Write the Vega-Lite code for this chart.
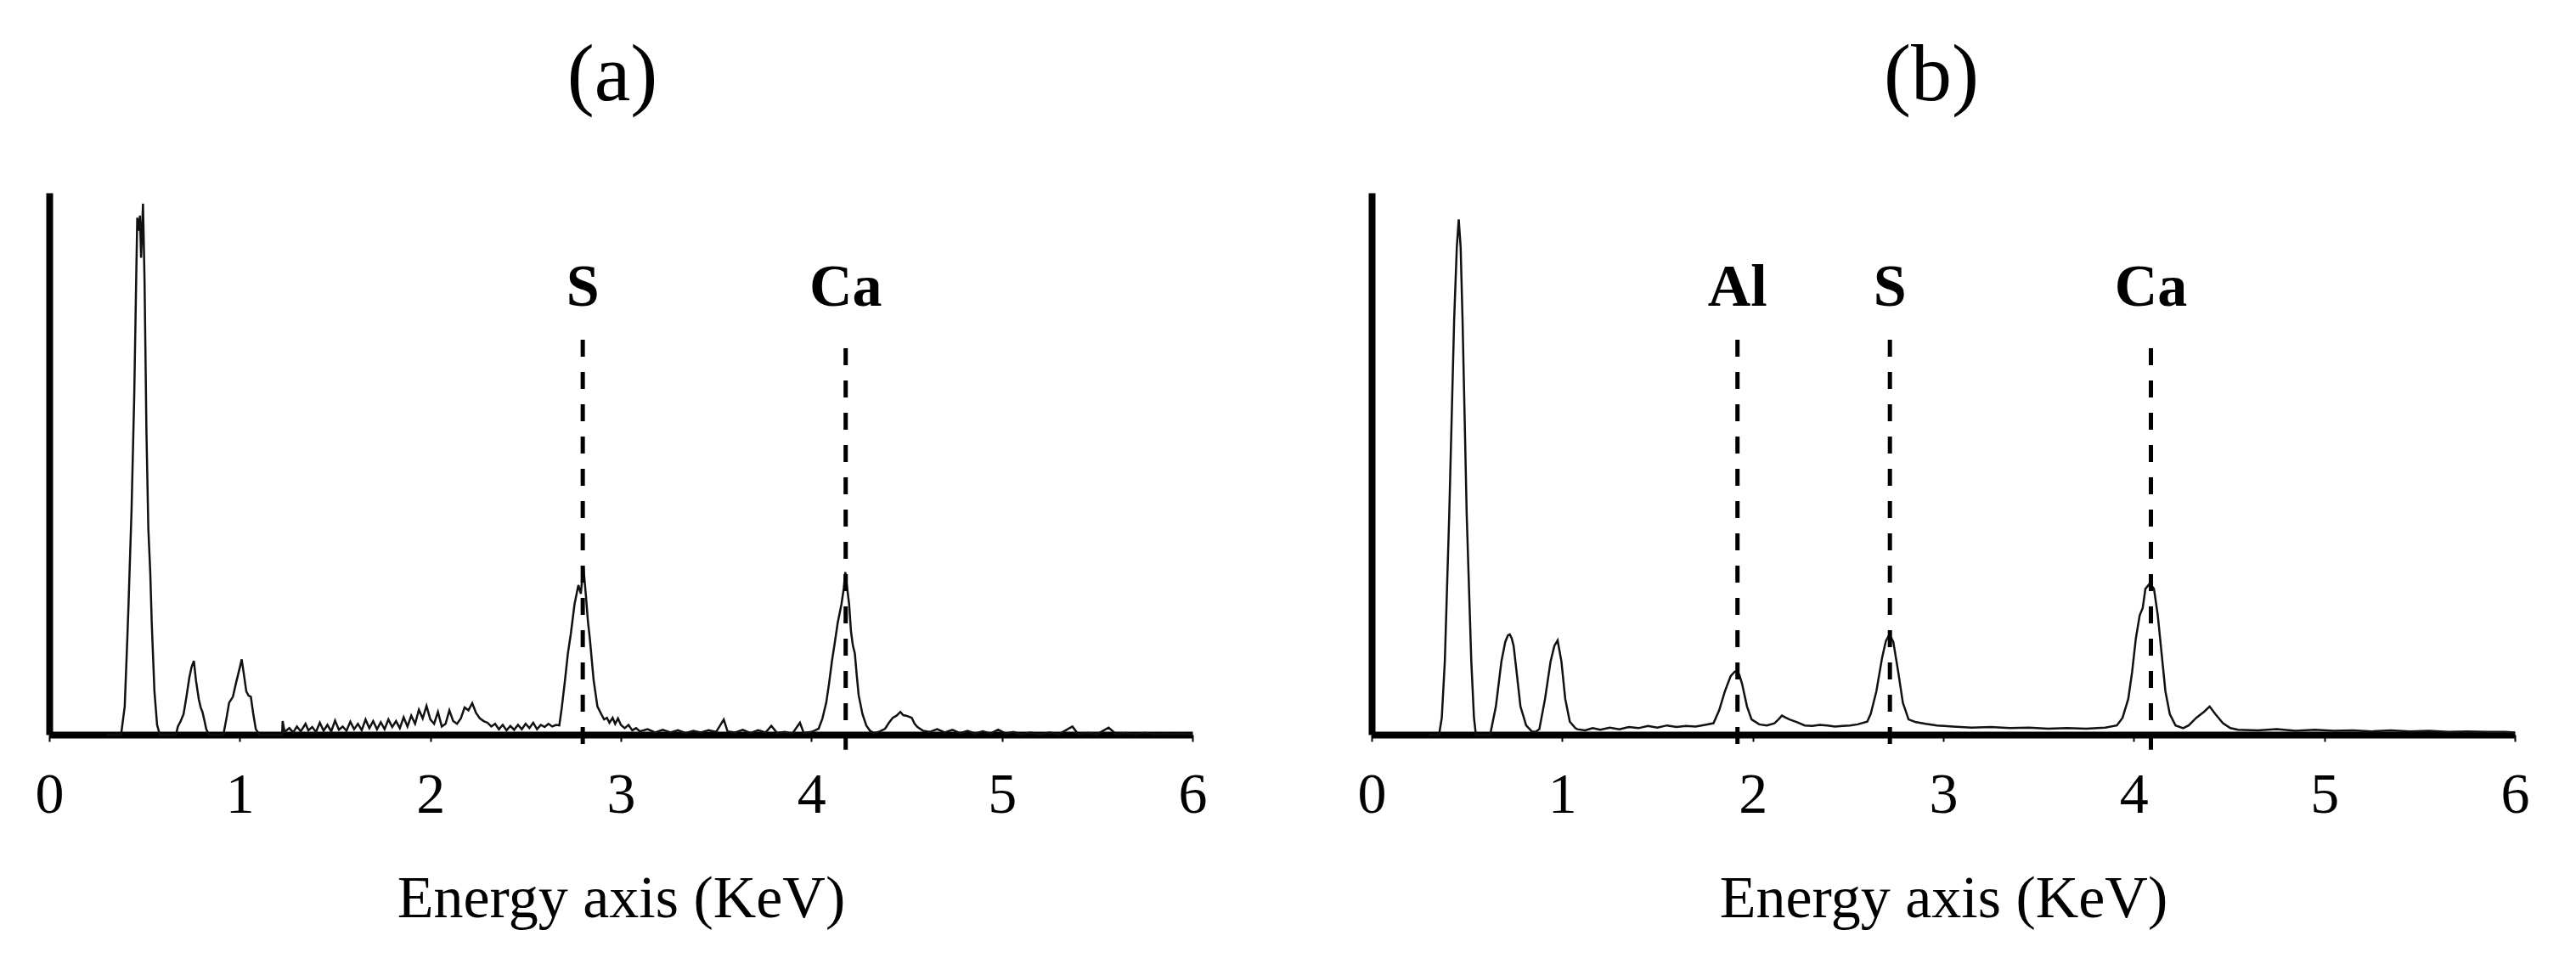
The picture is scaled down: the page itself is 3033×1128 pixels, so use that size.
{
  "$schema": "https://vega.github.io/schema/vega-lite/v6.json",
  "padding": {"left": 41, "top": 41, "right": 5, "bottom": 5},
  "bounds": "flush",
  "spacing": 211,
  "config": {
    "view": {"stroke": null},
    "font": "Liberation Serif",
    "axisX": {
      "domainColor": "black", "domainWidth": 8, "domainCap": "butt",
      "ticks": true, "tickSize": 8, "tickWidth": 2, "tickColor": "black",
      "grid": false,
      "labelFont": "Liberation Serif", "labelFontSize": 68, "labelColor": "black",
      "labelBaseline": "alphabetic", "labelPadding": 83, "labelFlush": false, "labelOverlap": false,
      "titleFont": "Liberation Serif", "titleFontSize": 70, "titleFontWeight": "normal", "titleColor": "black",
      "titleBaseline": "alphabetic", "titlePadding": 109
    },
    "axisY": {"domainColor": "black", "domainWidth": 8, "ticks": false, "labels": false, "grid": false}
  },
  "datasets": {
    "a": [
      {"e":0.30,"c":0},{"e":0.37,"c":0},{"e":0.377,"c":0},{"e":0.396,"c":5.2},{"e":0.41,"c":18},{"e":0.416,"c":24},{"e":0.432,"c":41.6},{"e":0.446,"c":62.6},{"e":0.456,"c":83.5},{"e":0.462,"c":95.4},{"e":0.470,"c":93},{"e":0.476,"c":95.8},{"e":0.482,"c":88},{"e":0.486,"c":92},{"e":0.492,"c":98},{"e":0.500,"c":84},{"e":0.510,"c":56},{"e":0.520,"c":38},{"e":0.530,"c":30},{"e":0.538,"c":20.5},{"e":0.552,"c":8},{"e":0.566,"c":1.8},{"e":0.580,"c":0},
      {"e":0.665,"c":0},{"e":0.675,"c":1.5},{"e":0.69,"c":2.5},{"e":0.705,"c":3.8},{"e":0.72,"c":7},{"e":0.735,"c":10.5},{"e":0.747,"c":12.5},{"e":0.759,"c":13.6},{"e":0.770,"c":10},{"e":0.785,"c":6.5},{"e":0.795,"c":5},{"e":0.804,"c":4.2},{"e":0.815,"c":2.5},{"e":0.824,"c":1},{"e":0.838,"c":0},
      {"e":0.914,"c":0},{"e":0.93,"c":3},{"e":0.944,"c":5.9},{"e":0.964,"c":7.0},{"e":0.980,"c":9.5},{"e":0.994,"c":11.5},{"e":1.003,"c":12.8},{"e":1.010,"c":13.9},{"e":1.020,"c":11.5},{"e":1.034,"c":8.0},{"e":1.046,"c":7.2},{"e":1.058,"c":7.0},{"e":1.070,"c":4},{"e":1.084,"c":1.0},{"e":1.104,"c":0},{"e":1.222,"c":0},
      {"e":1.225,"c":2.5},{"e":1.235,"c":0.5},{"e":1.26,"c":1.2},{"e":1.28,"c":0.4},{"e":1.30,"c":1.5},{"e":1.32,"c":0.6},{"e":1.345,"c":2.0},{"e":1.36,"c":0.8},{"e":1.38,"c":1.4},{"e":1.40,"c":0.5},{"e":1.42,"c":2.2},{"e":1.44,"c":0.7},{"e":1.46,"c":1.8},{"e":1.48,"c":0.6},{"e":1.50,"c":2.6},{"e":1.52,"c":0.9},{"e":1.54,"c":1.5},{"e":1.56,"c":0.7},{"e":1.58,"c":2.4},{"e":1.60,"c":1.0},{"e":1.62,"c":2.0},{"e":1.64,"c":0.8},{"e":1.66,"c":2.8},{"e":1.68,"c":1.2},{"e":1.70,"c":2.5},{"e":1.72,"c":1.0},{"e":1.74,"c":2.3},{"e":1.76,"c":1.0},{"e":1.78,"c":2.8},{"e":1.80,"c":1.4},{"e":1.82,"c":2.5},{"e":1.84,"c":1.2},{"e":1.86,"c":3.2},{"e":1.88,"c":1.5},{"e":1.90,"c":3.5},{"e":1.92,"c":2.0},{"e":1.94,"c":4.6},{"e":1.96,"c":3.0},{"e":1.98,"c":5.3},{"e":2.00,"c":2.8},{"e":2.02,"c":2.0},{"e":2.04,"c":4.2},{"e":2.06,"c":1.5},{"e":2.08,"c":2.0},{"e":2.10,"c":4.5},{"e":2.12,"c":2.5},{"e":2.14,"c":2.0},{"e":2.16,"c":3.0},{"e":2.18,"c":5.0},{"e":2.20,"c":4.5},{"e":2.22,"c":5.8},{"e":2.24,"c":4.0},{"e":2.26,"c":3.0},{"e":2.28,"c":2.5},{"e":2.30,"c":2.2},{"e":2.32,"c":1.5},{"e":2.34,"c":2.0},{"e":2.36,"c":1.0},{"e":2.38,"c":1.8},{"e":2.40,"c":0.8},{"e":2.42,"c":1.6},{"e":2.44,"c":0.9},{"e":2.46,"c":1.8},{"e":2.48,"c":1.0},{"e":2.50,"c":2.0},{"e":2.52,"c":1.2},{"e":2.54,"c":2.2},{"e":2.56,"c":1.0},{"e":2.58,"c":1.8},{"e":2.60,"c":1.4},{"e":2.62,"c":2.0},{"e":2.64,"c":1.5},{"e":2.66,"c":1.8},
      {"e":2.677,"c":1.7},{"e":2.690,"c":5},{"e":2.707,"c":10.1},{"e":2.722,"c":15},{"e":2.737,"c":18.5},{"e":2.757,"c":24.1},{"e":2.777,"c":27.6},{"e":2.790,"c":26},{"e":2.803,"c":31.1},{"e":2.817,"c":25.5},{"e":2.827,"c":21},{"e":2.837,"c":17.8},{"e":2.857,"c":10.1},{"e":2.877,"c":5.2},{"e":2.897,"c":3.8},{"e":2.912,"c":2.8},{"e":2.927,"c":3.1},{"e":2.94,"c":2.2},{"e":2.957,"c":3.1},{"e":2.97,"c":2.0},{"e":2.985,"c":3.0},{"e":3.00,"c":1.8},{"e":3.02,"c":1.2},{"e":3.04,"c":1.8},{"e":3.06,"c":0.8},{"e":3.08,"c":1.2},{"e":3.10,"c":0.6},{"e":3.14,"c":1.0},{"e":3.18,"c":0.4},{"e":3.22,"c":0.9},{"e":3.26,"c":0.4},{"e":3.30,"c":0.8},{"e":3.34,"c":0.3},{"e":3.38,"c":0.7},{"e":3.42,"c":0.4},{"e":3.46,"c":0.8},{"e":3.50,"c":0.5},{"e":3.54,"c":2.8},{"e":3.56,"c":0.6},{"e":3.60,"c":0.4},{"e":3.64,"c":0.9},{"e":3.68,"c":0.3},{"e":3.72,"c":0.8},{"e":3.76,"c":0.4},{"e":3.79,"c":1.6},{"e":3.82,"c":0.3},{"e":3.86,"c":0.5},{"e":3.90,"c":0.2},{"e":3.94,"c":2.2},{"e":3.96,"c":0.3},{"e":4.00,"c":0.5},{"e":4.02,"c":0.8},
      {"e":4.038,"c":1.1},{"e":4.058,"c":3},{"e":4.078,"c":5.9},{"e":4.093,"c":9.5},{"e":4.108,"c":13.6},{"e":4.123,"c":17},{"e":4.138,"c":20.6},{"e":4.158,"c":24.1},{"e":4.170,"c":27},{"e":4.178,"c":30.0},{"e":4.188,"c":27},{"e":4.198,"c":24.1},{"e":4.208,"c":19},{"e":4.218,"c":16.4},{"e":4.228,"c":15.0},{"e":4.238,"c":11},{"e":4.248,"c":7.3},{"e":4.268,"c":3.8},{"e":4.288,"c":1.7},{"e":4.308,"c":0.7},{"e":4.33,"c":0.3},{"e":4.36,"c":0.6},{"e":4.387,"c":1.1},{"e":4.407,"c":2.2},{"e":4.427,"c":3.1},{"e":4.447,"c":3.5},{"e":4.467,"c":4.2},{"e":4.482,"c":3.6},{"e":4.497,"c":3.5},{"e":4.512,"c":3.3},{"e":4.527,"c":3.1},{"e":4.542,"c":2.0},{"e":4.557,"c":1.4},{"e":4.587,"c":0.7},
      {"e":4.62,"c":0.5},{"e":4.66,"c":1.0},{"e":4.70,"c":0.4},{"e":4.74,"c":0.9},{"e":4.78,"c":0.3},{"e":4.82,"c":0.7},{"e":4.86,"c":0.2},{"e":4.90,"c":0.6},{"e":4.94,"c":0.2},{"e":4.98,"c":0.9},{"e":5.02,"c":0.2},{"e":5.06,"c":0.5},{"e":5.10,"c":0.1},{"e":5.15,"c":0.4},{"e":5.20,"c":0.1},{"e":5.25,"c":0.4},{"e":5.30,"c":0.1},{"e":5.37,"c":1.5},{"e":5.40,"c":0.1},{"e":5.45,"c":0.3},{"e":5.50,"c":0.1},{"e":5.56,"c":1.3},{"e":5.60,"c":0.1},{"e":5.65,"c":0.3},{"e":5.70,"c":0.1},{"e":5.75,"c":0.3},{"e":5.80,"c":0.1},{"e":5.85,"c":0.2},{"e":5.90,"c":0.1},{"e":5.95,"c":0.2},{"e":6.00,"c":0}
    ],
    "b": [
      {"e":0.30,"c":0},{"e":0.354,"c":0},{"e":0.368,"c":3.1},{"e":0.384,"c":13.5},{"e":0.407,"c":40.4},{"e":0.433,"c":76.6},{"e":0.447,"c":90},{"e":0.457,"c":95.1},{"e":0.467,"c":90},{"e":0.477,"c":76.6},{"e":0.499,"c":40.4},{"e":0.523,"c":13.5},{"e":0.537,"c":3.1},{"e":0.547,"c":0},
      {"e":0.622,"c":0},{"e":0.652,"c":5.2},{"e":0.681,"c":13.5},{"e":0.701,"c":17.1},{"e":0.715,"c":18.3},{"e":0.725,"c":18.5},{"e":0.735,"c":17.8},{"e":0.745,"c":16.4},{"e":0.761,"c":11.5},{"e":0.781,"c":5.2},{"e":0.811,"c":1.7},{"e":0.840,"c":0.6},{"e":0.860,"c":0.5},
      {"e":0.880,"c":1.0},{"e":0.910,"c":6.6},{"e":0.939,"c":13.5},{"e":0.959,"c":16.4},{"e":0.976,"c":17.4},{"e":0.996,"c":13.5},{"e":1.016,"c":6.6},{"e":1.040,"c":2.4},{"e":1.069,"c":1.2},
      {"e":1.08,"c":1.0},{"e":1.12,"c":0.8},{"e":1.16,"c":1.2},{"e":1.20,"c":0.9},{"e":1.25,"c":1.3},{"e":1.30,"c":1.0},{"e":1.35,"c":1.4},{"e":1.40,"c":1.2},{"e":1.45,"c":1.6},{"e":1.50,"c":1.3},{"e":1.55,"c":1.7},{"e":1.60,"c":1.4},{"e":1.65,"c":1.6},{"e":1.70,"c":1.5},{"e":1.75,"c":1.8},
      {"e":1.794,"c":2.1},{"e":1.824,"c":4.5},{"e":1.854,"c":8.0},{"e":1.884,"c":10.8},{"e":1.905,"c":11.6},{"e":1.918,"c":11.8},{"e":1.930,"c":11},{"e":1.944,"c":9.4},{"e":1.970,"c":5.2},{"e":1.994,"c":2.8},{"e":2.034,"c":1.9},{"e":2.074,"c":1.7},{"e":2.114,"c":2.1},{"e":2.135,"c":2.8},{"e":2.153,"c":3.5},{"e":2.175,"c":3.1},{"e":2.193,"c":2.8},{"e":2.233,"c":2.3},{"e":2.273,"c":1.7},{"e":2.313,"c":1.6},{"e":2.352,"c":1.8},{"e":2.392,"c":1.7},{"e":2.432,"c":1.5},{"e":2.472,"c":1.6},{"e":2.511,"c":1.7},{"e":2.551,"c":1.9},{"e":2.601,"c":2.4},
      {"e":2.619,"c":3.8},{"e":2.649,"c":8.0},{"e":2.679,"c":14.2},{"e":2.699,"c":17.3},{"e":2.718,"c":18.5},{"e":2.738,"c":17.1},{"e":2.764,"c":11.5},{"e":2.788,"c":5.9},{"e":2.818,"c":2.8},{"e":2.857,"c":2.3},{"e":2.907,"c":2.0},{"e":2.967,"c":1.7},
      {"e":3.05,"c":1.5},{"e":3.15,"c":1.3},{"e":3.25,"c":1.4},{"e":3.35,"c":1.2},{"e":3.45,"c":1.3},{"e":3.55,"c":1.1},{"e":3.65,"c":1.2},{"e":3.75,"c":1.1},{"e":3.85,"c":1.3},
      {"e":3.911,"c":1.7},{"e":3.941,"c":3.1},{"e":3.971,"c":6.6},{"e":3.991,"c":11.5},{"e":4.011,"c":17.8},{"e":4.031,"c":22.0},{"e":4.047,"c":23.4},{"e":4.061,"c":26.9},{"e":4.084,"c":27.9},{"e":4.106,"c":26.9},{"e":4.126,"c":22.0},{"e":4.146,"c":15.0},{"e":4.166,"c":8.0},{"e":4.189,"c":3.8},{"e":4.219,"c":1.7},{"e":4.259,"c":1.2},{"e":4.288,"c":1.7},{"e":4.328,"c":3.1},{"e":4.368,"c":4.2},{"e":4.398,"c":5.2},{"e":4.428,"c":3.8},{"e":4.468,"c":2.1},{"e":4.507,"c":1.2},{"e":4.547,"c":0.9},
      {"e":4.65,"c":0.8},{"e":4.75,"c":1.0},{"e":4.85,"c":0.7},{"e":4.95,"c":0.9},{"e":5.05,"c":0.7},{"e":5.15,"c":0.8},{"e":5.25,"c":0.6},{"e":5.35,"c":0.8},{"e":5.45,"c":0.6},{"e":5.55,"c":0.7},{"e":5.65,"c":0.5},{"e":5.75,"c":0.6},{"e":5.85,"c":0.5},{"e":5.95,"c":0.5},{"e":6.00,"c":0.4}
    ],
    "ma": [
      {"el":"S","e":2.80,"top":72.9,"bottom":-2.8,"ly":79.2},
      {"el":"Ca","e":4.18,"top":71.3,"bottom":-2.8,"ly":79.2}
    ],
    "mb": [
      {"el":"Al","e":1.92,"top":72.9,"bottom":-2.8,"ly":79.2},
      {"el":"S","e":2.72,"top":72.9,"bottom":-2.8,"ly":79.2},
      {"el":"Ca","e":4.09,"top":71.3,"bottom":-2.8,"ly":79.2}
    ]
  },
  "hconcat": [
    {
      "width": 1346, "height": 638,
      "title": {"text": "(a)", "fontSize": 96, "fontWeight": "normal", "font": "Liberation Serif", "color": "black", "baseline": "alphabetic", "offset": 13, "anchor": "middle", "dx": -10},
      "layer": [
        {
          "data": {"name": "a"},
          "mark": {"type": "line", "color": "#111", "strokeWidth": 2.5},
          "encoding": {
            "x": {"field": "e", "type": "quantitative", "scale": {"domain": [0, 6], "nice": false, "zero": false}, "axis": {"title": "Energy axis (KeV)", "values": [0, 1, 2, 3, 4, 5, 6], "format": "d"}},
            "y": {"field": "c", "type": "quantitative", "scale": {"domain": [0, 100], "nice": false}, "axis": {"title": null}}
          }
        },
        {
          "data": {"name": "ma"},
          "mark": {"type": "rule", "color": "black", "strokeWidth": 5, "strokeDash": [20, 18]},
          "encoding": {
            "x": {"field": "e", "type": "quantitative", "scale": {"domain": [0, 6], "nice": false, "zero": false}, "axis": {"title": "Energy axis (KeV)", "values": [0, 1, 2, 3, 4, 5, 6], "format": "d"}},
            "y": {"field": "top", "type": "quantitative", "scale": {"domain": [0, 100], "nice": false}, "axis": {"title": null}},
            "y2": {"field": "bottom"}
          }
        },
        {
          "data": {"name": "ma"},
          "mark": {"type": "text", "font": "Liberation Serif", "fontSize": 70, "fontWeight": "bold", "color": "black", "baseline": "alphabetic", "align": "center"},
          "encoding": {
            "x": {"field": "e", "type": "quantitative", "scale": {"domain": [0, 6], "nice": false, "zero": false}, "axis": {"title": "Energy axis (KeV)", "values": [0, 1, 2, 3, 4, 5, 6], "format": "d"}},
            "y": {"field": "ly", "type": "quantitative", "scale": {"domain": [0, 100], "nice": false}, "axis": {"title": null}},
            "text": {"field": "el"}
          }
        }
      ]
    },
    {
      "width": 1346, "height": 638,
      "title": {"text": "(b)", "fontSize": 96, "fontWeight": "normal", "font": "Liberation Serif", "color": "black", "baseline": "alphabetic", "offset": 13, "anchor": "middle", "dx": -14},
      "layer": [
        {
          "data": {"name": "b"},
          "mark": {"type": "line", "color": "#111", "strokeWidth": 2.5},
          "encoding": {
            "x": {"field": "e", "type": "quantitative", "scale": {"domain": [0, 6], "nice": false, "zero": false}, "axis": {"title": "Energy axis (KeV)", "values": [0, 1, 2, 3, 4, 5, 6], "format": "d"}},
            "y": {"field": "c", "type": "quantitative", "scale": {"domain": [0, 100], "nice": false}, "axis": {"title": null}}
          }
        },
        {
          "data": {"name": "mb"},
          "mark": {"type": "rule", "color": "black", "strokeWidth": 5, "strokeDash": [20, 18]},
          "encoding": {
            "x": {"field": "e", "type": "quantitative", "scale": {"domain": [0, 6], "nice": false, "zero": false}, "axis": {"title": "Energy axis (KeV)", "values": [0, 1, 2, 3, 4, 5, 6], "format": "d"}},
            "y": {"field": "top", "type": "quantitative", "scale": {"domain": [0, 100], "nice": false}, "axis": {"title": null}},
            "y2": {"field": "bottom"}
          }
        },
        {
          "data": {"name": "mb"},
          "mark": {"type": "text", "font": "Liberation Serif", "fontSize": 70, "fontWeight": "bold", "color": "black", "baseline": "alphabetic", "align": "center"},
          "encoding": {
            "x": {"field": "e", "type": "quantitative", "scale": {"domain": [0, 6], "nice": false, "zero": false}, "axis": {"title": "Energy axis (KeV)", "values": [0, 1, 2, 3, 4, 5, 6], "format": "d"}},
            "y": {"field": "ly", "type": "quantitative", "scale": {"domain": [0, 100], "nice": false}, "axis": {"title": null}},
            "text": {"field": "el"}
          }
        }
      ]
    }
  ]
}
